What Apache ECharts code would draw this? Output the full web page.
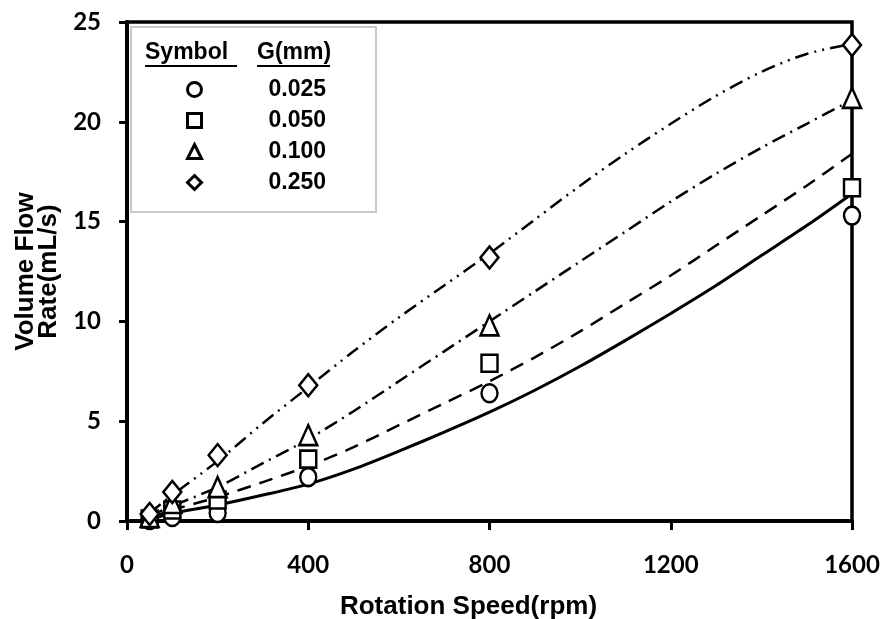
<!DOCTYPE html>
<html><head><meta charset="utf-8">
<script src="https://cdn.jsdelivr.net/npm/echarts@6/dist/echarts.min.js"></script>
<style>html,body{margin:0;padding:0;background:#fff}#c{width:883px;height:619px}</style>
</head><body><div id="c"></div>
<script>
// measured data points (rotation speed, flow rate)
const speeds = [50, 100, 200, 400, 800, 1600];
const gap025 = [0.05, 0.2, 0.4, 2.2, 6.4, 15.3];
const gap050 = [0.1, 0.55, 1.05, 3.1, 7.9, 16.7];
const gap100 = [0.2, 0.9, 1.7, 4.3, 9.8, 21.2];
const gap250 = [0.35, 1.45, 3.3, 6.8, 13.2, 23.85];
// fitted curves
const fitX = [50, 100, 200, 300, 400, 500, 600, 700, 800, 900, 1000, 1100, 1200, 1300, 1400, 1500, 1600];
const fit025 = [0.1, 0.38, 0.8, 1.3, 1.85, 2.6, 3.5, 4.45, 5.45, 6.55, 7.75, 9.05, 10.4, 11.8, 13.3, 14.8, 16.4];
const fit050 = [0.15, 0.55, 1.2, 1.95, 2.75, 3.7, 4.8, 5.9, 7.0, 8.2, 9.5, 10.9, 12.3, 13.8, 15.3, 16.8, 18.4];
const fit100 = [0.25, 0.75, 1.7, 2.9, 4.1, 5.5, 7.0, 8.5, 10.0, 11.5, 13.0, 14.5, 16.0, 17.4, 18.7, 19.9, 21.1];
const fit250 = [0.4, 1.3, 3.0, 4.9, 6.7, 8.5, 10.2, 11.8, 13.4, 15.1, 16.8, 18.4, 19.9, 21.3, 22.5, 23.4, 23.9];
const names = ['0.025', '0.050', '0.100', '0.250'];

const pts = (xs, ys) => xs.map((x, i) => [x, ys[i]]);
const chart = echarts.init(document.getElementById('c'));
const markStyle = {color: '#fff', borderColor: '#000', borderWidth: 2.5, opacity: 1};
const symbols = ['circle', 'rect', 'triangle', 'diamond'];
const sizes = [[16, 18], [16, 17], [18, 20], [18, 22]];
const dataSets = [gap025, gap050, gap100, gap250];
const fits = [fit025, fit050, fit100, fit250];
const dashes = ['solid', [14, 9], [14, 6, 2, 6], [14, 6, 2, 6, 2, 6]];

const series = [];
fits.forEach((f, i) => {
  series.push({
    type: 'line', name: 'fit' + names[i], data: pts(fitX, f), smooth: 0.3,
    showSymbol: false, silent: true, z: 2,
    lineStyle: {color: '#000', width: i === 0 ? 3 : 2.5, type: dashes[i]}
  });
});
dataSets.forEach((d, i) => {
  series.push({
    type: 'scatter', name: names[i], data: pts(speeds, d),
    symbol: symbols[i], symbolSize: sizes[i], itemStyle: markStyle, z: 3
  });
});

chart.setOption({
  animation: false,
  grid: {left: 127, right: 31, top: 22, bottom: 98, show: true, borderColor: '#000', borderWidth: 3.5,
    containLabel: false, outerBoundsMode: 'none'},
  xAxis: {
    type: 'value', min: 0, max: 1600, interval: 400,
    name: 'Rotation Speed(rpm)', nameLocation: 'middle', nameGap: 73,
    nameTextStyle: {fontFamily: 'Liberation Sans', fontWeight: 'bold', fontSize: 26, color: '#000', padding: [0, 42, 0, 0]},
    axisLine: {lineStyle: {color: '#000', width: 4}},
    axisTick: {show: true, length: 9, lineStyle: {color: '#000', width: 3}},
    axisLabel: {margin: 32, fontFamily: 'Lato', fontWeight: 'bold', fontSize: 24, color: '#000',
      formatter: v => String(v)},
    splitLine: {show: false}
  },
  yAxis: {
    type: 'value', min: 0, max: 25, interval: 5,
    name: 'Volume Flow\nRate(mL/s)', nameLocation: 'middle', nameRotate: 90, nameGap: 66,
    nameTextStyle: {fontFamily: 'Liberation Sans', fontWeight: 'bold', fontSize: 26, color: '#000', lineHeight: 23},
    axisLine: {lineStyle: {color: '#000', width: 4}},
    axisTick: {show: true, length: 8, lineStyle: {color: '#000', width: 3}},
    axisLabel: {margin: 26, fontFamily: 'Lato', fontWeight: 'bold', fontSize: 24, color: '#000',
      formatter: v => String(v)},
    splitLine: {show: false}
  },
  legend: {
    data: names.map((n, i) => ({name: n, icon: symbols[i]})),
    orient: 'vertical', left: 181, top: 73, itemWidth: 14, itemHeight: 14, itemGap: 8,
    textStyle: {fontFamily: 'Liberation Sans', fontWeight: 'bold', fontSize: 23, color: '#000', padding: [0, 0, 0, 62]},
    itemStyle: {color: '#fff', borderColor: '#000', borderWidth: 3, opacity: 1},
    selectedMode: false, z: 6
  },
  graphic: [
    {type: 'rect', shape: {x: 131, y: 27, width: 245, height: 185}, style: {fill: '#fff', stroke: '#c8c8c8', lineWidth: 2}, z: 5},
    {type: 'text', x: 145, y: 41, style: {text: 'Symbol', font: 'bold 23px "Liberation Sans"', fill: '#000'}, z: 6},
    {type: 'text', x: 257, y: 41, style: {text: 'G(mm)', font: 'bold 23px "Liberation Sans"', fill: '#000'}, z: 6},
    {type: 'line', shape: {x1: 145, y1: 66, x2: 237, y2: 66}, style: {stroke: '#000', lineWidth: 2}, z: 6},
    {type: 'line', shape: {x1: 257, y1: 66, x2: 330, y2: 66}, style: {stroke: '#000', lineWidth: 2}, z: 6}
  ],
  series: series
});
</script></body></html>
